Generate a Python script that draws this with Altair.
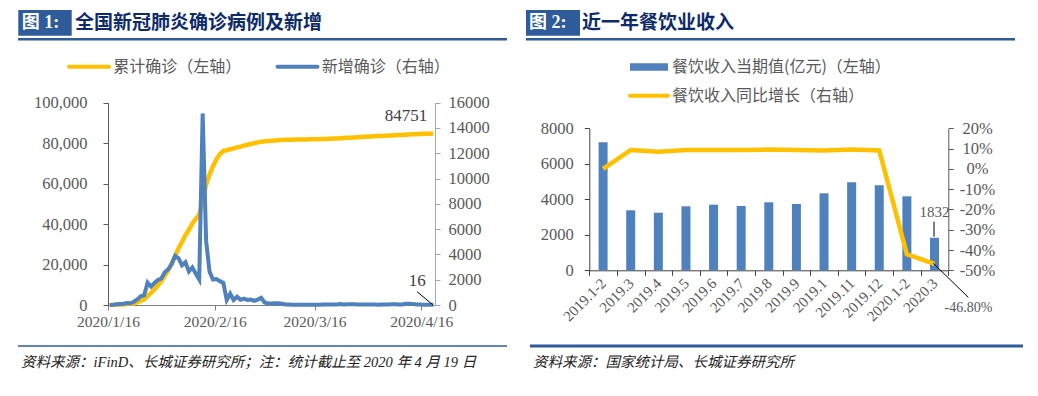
import altair as alt
import pandas as pd

# ---------------- data ----------------
# Left chart: national cumulative / daily new confirmed cases, 2020/1/16 - 2020/4/19
dates = pd.date_range("2020-01-16", "2020-04-19", freq="D")
cum_confirmed = [
    45, 62, 121, 198, 291, 440, 571, 830, 1287, 1975, 2744, 4515, 5974, 7711, 9692, 11791,
    14380, 17205, 20438, 24324, 28018, 31161, 34546, 37198, 40171, 42638, 44653, 51200, 59500,
    64500, 68600, 72000, 74600, 76200, 76500, 77000, 77400, 77900, 78300, 78800, 79200, 79600,
    80000, 80400, 80700,
    80900, 81050, 81200, 81350, 81480, 81580, 81650, 81700, 81740, 81780, 81810, 81840, 81870,
    81900, 81930, 81960, 82000, 82050, 82110, 82180, 82250, 82330, 82420, 82520, 82620, 82730,
    82840, 82950, 83060, 83170, 83270,
    83350, 83430, 83510, 83590, 83670, 83750, 83840, 83930, 84010, 84090, 84200, 84310, 84400,
    84460, 84520, 84600, 84660, 84710, 84751,
]
new_confirmed = [
    4, 17, 59, 77, 93, 149, 131, 259, 444, 688, 769, 1771, 1459, 1737, 1981, 2099,
    2589, 2825, 3233, 3886, 3694, 3143, 3385, 2652, 2973, 2467, 2015, 15152, 5090, 2641, 2009,
    2048, 1886, 1749, 394, 889, 397, 648, 409, 508, 406, 433, 327, 427, 573,
    202, 125, 119, 139, 143, 99, 44, 40, 19, 24, 15, 20, 11, 20, 16, 21, 13, 34, 39, 41, 46,
    39, 78, 47, 67, 55, 54, 45, 31, 48, 36,
    35, 31, 19, 30, 39, 32, 62, 63, 42, 46, 99, 108, 89, 46, 46, 26, 27, 27, 16,
]
x_tick_days = [0, 31, 60, 91]
x_tick_labels = ["2020/1/16", "2020/2/16", "2020/3/16", "2020/4/16"]
cum_ticks = [0, 20000, 40000, 60000, 80000, 100000]
new_ticks = [0, 2000, 4000, 6000, 8000, 10000, 12000, 14000, 16000]

# Right chart: catering revenue (100 million yuan) and YoY growth
months = ["2019.1-2", "2019.3", "2019.4", "2019.5", "2019.6", "2019.7", "2019.8",
          "2019.9", "2019.1", "2019.11", "2019.12", "2020.1-2", "2020.3"]
revenue = [7211, 3380, 3245, 3605, 3696, 3622, 3831, 3735, 4338, 4958, 4789, 4169, 1832]
growth_pct = [0.0, 9.3, 8.5, 9.3, 9.3, 9.3, 9.5, 9.3, 9.0, 9.5, 9.1, -42.1, -46.8]
rev_ticks = [0, 2000, 4000, 6000, 8000]
pct_ticks = [-0.5, -0.4, -0.3, -0.2, -0.1, 0.0, 0.1, 0.2]

# ---------------- tables ----------------
dfL = pd.DataFrame({
    "day": [i + 0.5 for i in range(len(dates))],
    "cum": cum_confirmed,
    "new": new_confirmed,
})
dfR = pd.DataFrame({
    "month": months,
    "revenue": revenue,
    "growth": [g / 100 for g in growth_pct],
})
dfR_last = dfR.tail(1).assign(
    rev_label=lambda d: d["revenue"].astype(str),
    pct_label=lambda d: d["growth"].map(lambda v: f"{v * 100:.2f}%"),
)
dfL_last = dfL.tail(1).assign(
    cum_label=lambda d: d["cum"].astype(str),
    new_label=lambda d: d["new"].astype(str),
)

# ---------------- style ----------------
W, H = 1022, 380
SERIF = "Liberation Serif"
CJK = "Noto Sans CJK SC"
MIX = "Liberation Serif, Noto Sans CJK SC"
YELLOW = "#FFC000"
BLUE = "#4F81BD"
HEAD = "#2E5B9A"
NAVY = "#0D2B6B"
LAB = "#595959"

# left panel geometry (chart pixels)
L_X0, L_X1 = 100, 427
L_Y0, L_Y1 = 297, 94.7
# right panel geometry
R_X0, R_X1 = 581.3, 940.3
R_Y0, R_Y1 = 262.3, 120.3

xL = alt.Scale(domain=[0, 95], range=[L_X0, L_X1], nice=False, zero=False)
yCum = alt.Scale(domain=[0, 100000], range=[L_Y0, L_Y1], nice=False)
yNew = alt.Scale(domain=[0, 16000], range=[L_Y0, L_Y1], nice=False)

xRband = alt.Scale(type="band", domain=months, range=[R_X0, R_X1], paddingInner=0, paddingOuter=0)
xRpoint = alt.Scale(type="point", domain=months, range=[R_X0, R_X1], padding=0.5)
yRev = alt.Scale(domain=[0, 8000], range=[R_Y0, R_Y1], nice=False)
yPct = alt.Scale(domain=[-0.5, 0.2], range=[R_Y0, R_Y1], nice=False)

x_label_expr = " : ".join(
    f"datum.value == {d} ? '{l}'" for d, l in zip(x_tick_days, x_tick_labels)
) + " : ''"

common_axis = dict(grid=False, title=None, labelFlush=False, labelOverlap=False,
                   labelColor=LAB, labelFont=SERIF, tickSize=5)

# ---------------- left chart ----------------
cum_line = alt.Chart(dfL).mark_line(color=YELLOW, strokeWidth=4.5).encode(
    x=alt.X("day:Q", scale=xL, axis=alt.Axis(
        orient="bottom", offset=L_Y0 - H, values=x_tick_days, labelExpr=x_label_expr,
        domainColor="#808080", tickColor="#808080", labelFontSize=15.5, labelPadding=4.5,
        **common_axis)),
    y=alt.Y("cum:Q", scale=yCum, axis=alt.Axis(
        orient="left", offset=-L_X0, values=cum_ticks, format=",d",
        domainColor="#595959", tickColor="#595959", labelFontSize=16.5, labelPadding=16,
        **common_axis)),
)
new_line = alt.Chart(dfL).mark_line(color=BLUE, strokeWidth=4).encode(
    x=alt.X("day:Q", scale=xL, axis=None),
    y=alt.Y("new:Q", scale=yNew, axis=alt.Axis(
        orient="right", offset=L_X1 - W, values=new_ticks, format="d",
        domainColor="#A6A6A6", tickColor="#A6A6A6", labelFontSize=16.5, labelPadding=8,
        **common_axis)),
)
cum_label = alt.Chart(dfL_last).mark_text(
    align="right", baseline="middle", dx=-6, dy=-18, font=SERIF, fontSize=17, color="#404040"
).encode(x=alt.X("day:Q", scale=xL, axis=None), y=alt.Y("cum:Q", scale=yCum, axis=None),
         text="cum_label:N")
new_label = alt.Chart(dfL_last).mark_text(
    align="center", baseline="middle", dx=-16, dy=-24, font=SERIF, fontSize=17, color="#404040"
).encode(x=alt.X("day:Q", scale=xL, axis=None), y=alt.Y("new:Q", scale=yNew, axis=None),
         text="new_label:N")

# ---------------- right chart ----------------
bars = alt.Chart(dfR).mark_bar(size=9, color=BLUE).encode(
    x=alt.X("month:N", scale=xRband, axis=alt.Axis(
        orient="bottom", offset=R_Y0 - H, tickBand="extent", labelAngle=-45,
        labelAlign="right", labelBaseline="middle", labelFontSize=15, labelPadding=5,
        domainColor="#404040", tickColor="#404040", **common_axis)),
    y=alt.Y("revenue:Q", scale=yRev, axis=alt.Axis(
        orient="left", offset=-R_X0, values=rev_ticks, format="d",
        domainColor="#404040", tickColor="#404040", labelFontSize=16.5, labelPadding=11,
        **common_axis)),
)
growth_line = alt.Chart(dfR).mark_line(color=YELLOW, strokeWidth=4.5).encode(
    x=alt.X("month:N", scale=xRpoint, axis=None),
    y=alt.Y("growth:Q", scale=yPct, axis=alt.Axis(
        orient="right", offset=R_X1 - W, values=pct_ticks, format=".0%",
        labelExpr="replace(datum.label, '\u2212', '-')", labelAlign="center",
        domainColor="#595959", tickColor="#595959", labelFontSize=16.5, labelPadding=23.7,
        **common_axis)),
)
rev_label = alt.Chart(dfR_last).mark_text(
    align="center", baseline="middle", dy=-26, font=SERIF, fontSize=15, color=LAB
).encode(x=alt.X("month:N", scale=xRpoint, axis=None),
         y=alt.Y("revenue:Q", scale=yRev, axis=None), text="rev_label:N")
pct_label = alt.Chart(dfR_last).mark_text(
    align="center", baseline="middle", dx=34, dy=44, font=SERIF, fontSize=14, color=LAB
).encode(x=alt.X("month:N", scale=xRpoint, axis=None),
         y=alt.Y("growth:Q", scale=yPct, axis=None), text="pct_label:N")


# ---------------- decorations (headers, legends, footers) ----------------
def txt(s, x, y, size, color, font=CJK, weight="normal", style="normal", align="left"):
    return alt.Chart(pd.DataFrame({"t": [s]})).mark_text(
        align=align, baseline="middle", font=font, fontSize=size, color=color,
        fontWeight=weight, fontStyle=style
    ).encode(x=alt.value(x), y=alt.value(y), text="t:N")


def rect(x, x2, y, y2, color):
    return alt.Chart(pd.DataFrame({"t": [0]})).mark_rect(color=color).encode(
        x=alt.value(x), x2=alt.value(x2), y=alt.value(y), y2=alt.value(y2))


def hline(x, x2, y, color, width, cap="butt"):
    return alt.Chart(pd.DataFrame({"t": [0]})).mark_rule(
        color=color, strokeWidth=width, strokeCap=cap).encode(
        x=alt.value(x), x2=alt.value(x2), y=alt.value(y))


def seg(x, y, x2, y2, color="#000000", width=1):
    return alt.Chart(pd.DataFrame({"t": [0]})).mark_rule(color=color, strokeWidth=width).encode(
        x=alt.value(x), x2=alt.value(x2), y=alt.value(y), y2=alt.value(y2))


deco = [
    # left header
    rect(10.3, 63.7, 2, 27.7, HEAD),
    txt("图 1:", 13.7, 15, 18, "white", font=MIX, weight="bold"),
    txt("全国新冠肺炎确诊病例及新增", 67, 15, 19, NAVY, weight="bold"),
    hline(10, 499, 31.3, HEAD, 2.5),
    # left legend
    hline(61, 101, 58.7, YELLOW, 4, "round"),
    txt("累计确诊（左轴）", 105.3, 58.7, 16, LAB),
    hline(269.5, 309.5, 58.7, BLUE, 4, "round"),
    txt("新增确诊（右轴）", 313.7, 58.7, 16, LAB),
    # left annotation leader
    seg(409, 283.7, 425, 297),
    # left footer
    hline(10, 499, 338, HEAD, 1.5),
    txt("资料来源：iFinD、长城证券研究所；注：统计截止至 2020 年 4 月 19 日", 13, 355, 14.5,
        "#222222", font=MIX, style="italic"),
    # right header
    rect(518, 572, 2, 27.7, HEAD),
    txt("图 2:", 521, 15, 18, "white", font=MIX, weight="bold"),
    txt("近一年餐饮业收入", 574, 15, 19, NAVY, weight="bold"),
    hline(518, 1007, 31.3, HEAD, 2.5),
    # right legend
    rect(622, 660, 55.3, 62.7, BLUE),
    txt("餐饮收入当期值(亿元)（左轴）", 664, 58.7, 16, LAB),
    hline(622, 660, 87.7, YELLOW, 4, "round"),
    txt("餐饮收入同比增长（右轴）", 664, 87.7, 16, LAB),
    # right annotation leaders
    seg(926, 213.7, 926, 228.7),
    seg(925.3, 255.3, 960.3, 289.3),
    # right footer
    hline(522, 1015, 338, HEAD, 3),
    txt("资料来源：国家统计局、长城证券研究所", 525, 355, 14.5, "#222222", font=MIX, style="italic"),
]

chart = alt.layer(
    cum_line, new_line, cum_label, new_label,
    bars, growth_line, rev_label, pct_label,
    *deco,
).resolve_scale(
    x="independent", y="independent"
).properties(
    width=W, height=H, padding=0, autosize=alt.AutoSizeParams(type="none"),
    background="white",
).configure_view(stroke=None)

chart.save("out.html", embed_options={"renderer": "svg", "actions": False})
